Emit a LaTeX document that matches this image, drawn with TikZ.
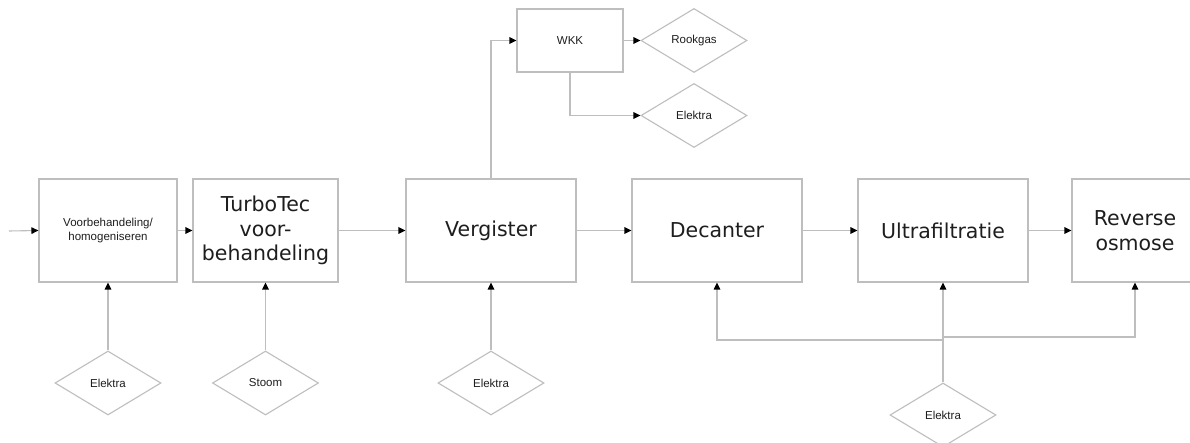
\documentclass[tikz,border=0pt]{standalone}
\usepackage{fontspec}
\setmainfont{Liberation Sans}
\newfontfamily\bigfont{DejaVu Sans}
\usetikzlibrary{shapes.geometric,arrows.meta}
\definecolor{linegray}{RGB}{190,190,190}
\definecolor{inkgray}{RGB}{30,30,30}
\tikzset{
  x=1pt, y=-1pt,
  every node/.style={text=inkgray},
  procbox/.style={draw=linegray, line width=1.1pt, rectangle, inner sep=0pt,
    minimum height=103pt, align=center,
    font=\bigfont\fontsize{20.5}{24.5}\selectfont},
  smallbox/.style={draw=linegray, line width=1.1pt, rectangle, inner sep=0pt,
    align=center, font=\fontsize{11.5}{14}\selectfont},
  resource/.style={draw=linegray, line width=1.1pt, diamond, inner sep=0pt,
    minimum width=106pt, minimum height=64pt, font=\fontsize{11.5}{14}\selectfont},
  flow/.style={draw=linegray, line width=1.1pt,
    -{Triangle[length=7pt, width=6.5pt, fill=black, color=black]}},
  plain/.style={draw=linegray, line width=1.1pt}
}
\begin{document}
\begin{tikzpicture}
\clip (0,0) rectangle (1190,443);
\fill[white] (0,0) rectangle (1190,443);

% process chain
\node[smallbox, minimum width=138pt, minimum height=103pt] (pre) at (108,230.5)
  {Voorbehandeling/\\homogeniseren};
\node[procbox, minimum width=145pt] (turbo) at (265.5,230.5) {TurboTec\\voor-\\behandeling};
\node[procbox, minimum width=170pt] (verg) at (491,230.5) {Vergister};
\node[procbox, minimum width=170pt] (dec) at (717,230.5) {Decanter};
\node[procbox, minimum width=170pt] (uf) at (943,230.5) {Ultrafiltratie};
\node[procbox, minimum width=126pt] (ro) at (1135,230.5) {Reverse\\osmose};

% combined heat and power branch
\node[smallbox, minimum width=106pt, minimum height=63pt] (wkk) at (570,40.5) {WKK};
\node[resource] (rook) at (694,40.5) {Rookgas};
\node[resource] (elw) at (694,115.5) {Elektra};

% utility inputs
\node[resource] (el1) at (108,383) {Elektra};
\node[resource] (stoom) at (265.5,383) {Stoom};
\node[resource] (el3) at (491,383) {Elektra};
\node[resource] (el4) at (943,415) {Elektra};

\coordinate (feed) at (9,231);
\coordinate (jl) at (943,340);
\coordinate (jr) at (943,337);

% main flow
\draw[flow] (feed) -- (pre.west);
\draw[flow] (pre.east) -- (turbo.west);
\draw[flow] (turbo.east) -- (verg.west);
\draw[flow] (verg.east) -- (dec.west);
\draw[flow] (dec.east) -- (uf.west);
\draw[flow] (uf.east) -- (ro.west);

% biogas to WKK and its outputs
\draw[flow] (verg.north) |- (wkk.west);
\draw[flow] (wkk.east) -- (rook.west);
\draw[flow] (wkk.south) |- (elw.west);

% utilities into the process steps
\draw[flow] (el1.north) -- (pre.south);
\draw[flow] (stoom.north) -- (turbo.south);
\draw[flow] (el3.north) -- (verg.south);
\draw[flow] (el4.north) -- (uf.south);
\draw[flow] (jl) -| (dec.south);
\draw[flow] (jr) -| (ro.south);
\end{tikzpicture}
\end{document}
